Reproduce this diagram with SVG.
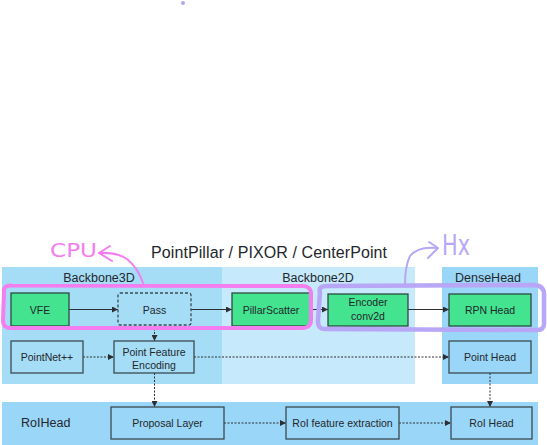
<svg xmlns="http://www.w3.org/2000/svg" width="547" height="445" viewBox="0 0 547 445">
<defs>
<style>
.lbl{font-family:"Liberation Sans",Arial,sans-serif;font-size:10.5px;fill:#23272b;text-anchor:middle}
.plbl{font-family:"Liberation Sans",Arial,sans-serif;font-size:12.5px;fill:#23272b;text-anchor:middle}
.g{fill:#43e38f;stroke:#2f4a40;stroke-width:1.3}
.b1{fill:#a6ddf6;stroke:#3a4a52;stroke-width:1.3}
.b2{fill:#9ad6f7;stroke:#3a4a52;stroke-width:1.3}
.s{stroke:#2b2f33;stroke-width:1;fill:none}
.d{stroke:#2b2f33;stroke-width:1;fill:none;stroke-dasharray:2 1.5}
.pink{stroke:#f47ef0;fill:none;stroke-width:4;stroke-linecap:round;stroke-linejoin:round}
.purp{stroke:#b8a6f6;fill:none;stroke-width:4.5;stroke-linecap:round;stroke-linejoin:round}
</style>
<marker id="ah" viewBox="0 0 6 6" refX="6" refY="3" markerWidth="6" markerHeight="6" markerUnits="userSpaceOnUse" orient="auto">
<path d="M0,0 L6,3 L0,6 z" fill="#2b2f33"/>
</marker>
</defs>
<rect width="547" height="445" fill="#ffffff"/>
<circle cx="183" cy="3" r="2" fill="#b8a6f6"/>

<g id="panels">
<rect x="2" y="267" width="220" height="117" fill="#a6ddf6"/>
<rect x="222" y="267" width="193" height="117" fill="#c6e9fb"/>
<rect x="442" y="267" width="96" height="117" fill="#9ad6f7"/>
<rect x="2" y="402" width="536" height="43" fill="#9ad6f7"/>
<text class="plbl" x="99" y="282">Backbone3D</text>
<text class="plbl" x="318" y="282">Backbone2D</text>
<text class="plbl" x="488" y="282">DenseHead</text>
<text class="plbl" x="21" y="427" style="text-anchor:start">RoIHead</text>
</g>

<text x="269" y="258" style="font-family:'Liberation Sans',Arial,sans-serif;font-size:16px;fill:#23272b;text-anchor:middle" textLength="236">PointPillar / PIXOR  / CenterPoint</text>

<g id="connectors">
<line class="s" x1="69" y1="309.5" x2="118" y2="309.5" marker-end="url(#ah)"/>
<line class="s" x1="191" y1="309.5" x2="232" y2="309.5" marker-end="url(#ah)"/>
<line class="s" x1="310" y1="309.5" x2="328" y2="309.5" marker-end="url(#ah)"/>
<line class="s" x1="408" y1="309.5" x2="449" y2="309.5" marker-end="url(#ah)"/>
<line class="d" x1="154.5" y1="325" x2="154.5" y2="341" marker-end="url(#ah)"/>
<line class="d" x1="83" y1="357" x2="114" y2="357" marker-end="url(#ah)"/>
<line class="d" x1="194" y1="357" x2="449" y2="357" marker-end="url(#ah)"/>
<line class="d" x1="154.5" y1="373" x2="154.5" y2="407" marker-end="url(#ah)"/>
<line class="d" x1="490" y1="373" x2="490" y2="407" marker-end="url(#ah)"/>
<line class="d" x1="224" y1="423" x2="286" y2="423" marker-end="url(#ah)"/>
<line class="d" x1="399" y1="423" x2="451" y2="423" marker-end="url(#ah)"/>
</g>

<g id="vfe"><rect class="g" x="11" y="293" width="58" height="33"/><text class="lbl" x="40" y="313.5">VFE</text></g>
<g id="pass"><rect class="b1" x="118" y="293" width="73" height="32" rx="2" style="stroke-dasharray:3 2"/><text class="lbl" x="154.5" y="313.5">Pass</text></g>
<g id="pillarscatter"><rect class="g" x="232" y="293" width="78" height="33"/><text class="lbl" x="271" y="313.5">PillarScatter</text></g>
<g id="encoder"><rect class="g" x="328" y="294" width="80" height="32"/><text class="lbl" x="368" y="306">Encoder</text><text class="lbl" x="368" y="320">conv2d</text></g>
<g id="rpnhead"><rect class="g" x="449" y="294" width="82" height="32"/><text class="lbl" x="490" y="313.5">RPN Head</text></g>
<g id="pointnet"><rect class="b1" x="11" y="341" width="72" height="32"/><text class="lbl" x="47" y="360.5">PointNet++</text></g>
<g id="pfe"><rect class="b1" x="114" y="341" width="80" height="32"/><text class="lbl" x="154" y="355.5">Point Feature</text><text class="lbl" x="154" y="368.5">Encoding</text></g>
<g id="pointhead"><rect class="b2" x="449" y="341" width="82" height="32"/><text class="lbl" x="490" y="360.5">Point Head</text></g>
<g id="proposal"><rect class="b2" x="111" y="407" width="113" height="32"/><text class="lbl" x="167.5" y="426.5">Proposal Layer</text></g>
<g id="roifeat"><rect class="b2" x="286" y="407" width="113" height="32"/><text class="lbl" x="342.5" y="426.5">RoI feature extraction</text></g>
<g id="roihead"><rect class="b2" x="451" y="407" width="81" height="32"/><text class="lbl" x="491.5" y="426.5">RoI Head</text></g>

<g id="annot-cpu">
<path class="pink" d="M4,292 Q3,285 12,285.5 L300,286 Q311,285 311,294 L311,318 Q312,328 302,328 L12,328 Q3,329 3,320 Z"/>
<path class="pink" d="M143,283 Q138,268 127,259 Q116,252 99,253" style="stroke-width:2"/>
<path class="pink" d="M110,246 L99,253 L112,261" style="stroke-width:2"/>
<text x="50" y="257" textLength="47" lengthAdjust="spacingAndGlyphs" style="font-family:'DejaVu Sans',sans-serif;font-size:20px;fill:#f47ef0">CPU</text>
</g>
<g id="annot-hx">
<path class="purp" d="M320,292 Q318,286 327,286 L535,285 Q545,286 544,296 L544,322 Q545,331 535,330 L326,329 Q318,330 318,321 Z"/>
<path class="purp" d="M405,285 Q405,266 410,256 Q418,246 437,248" style="stroke-width:2"/>
<path class="purp" d="M429,242 L438,248 L428,258" style="stroke-width:2"/>
<text x="442" y="255" textLength="28" lengthAdjust="spacingAndGlyphs" style="font-family:'DejaVu Sans',sans-serif;font-size:28px;fill:#b8a6f6">Hx</text>
</g>
</svg>
